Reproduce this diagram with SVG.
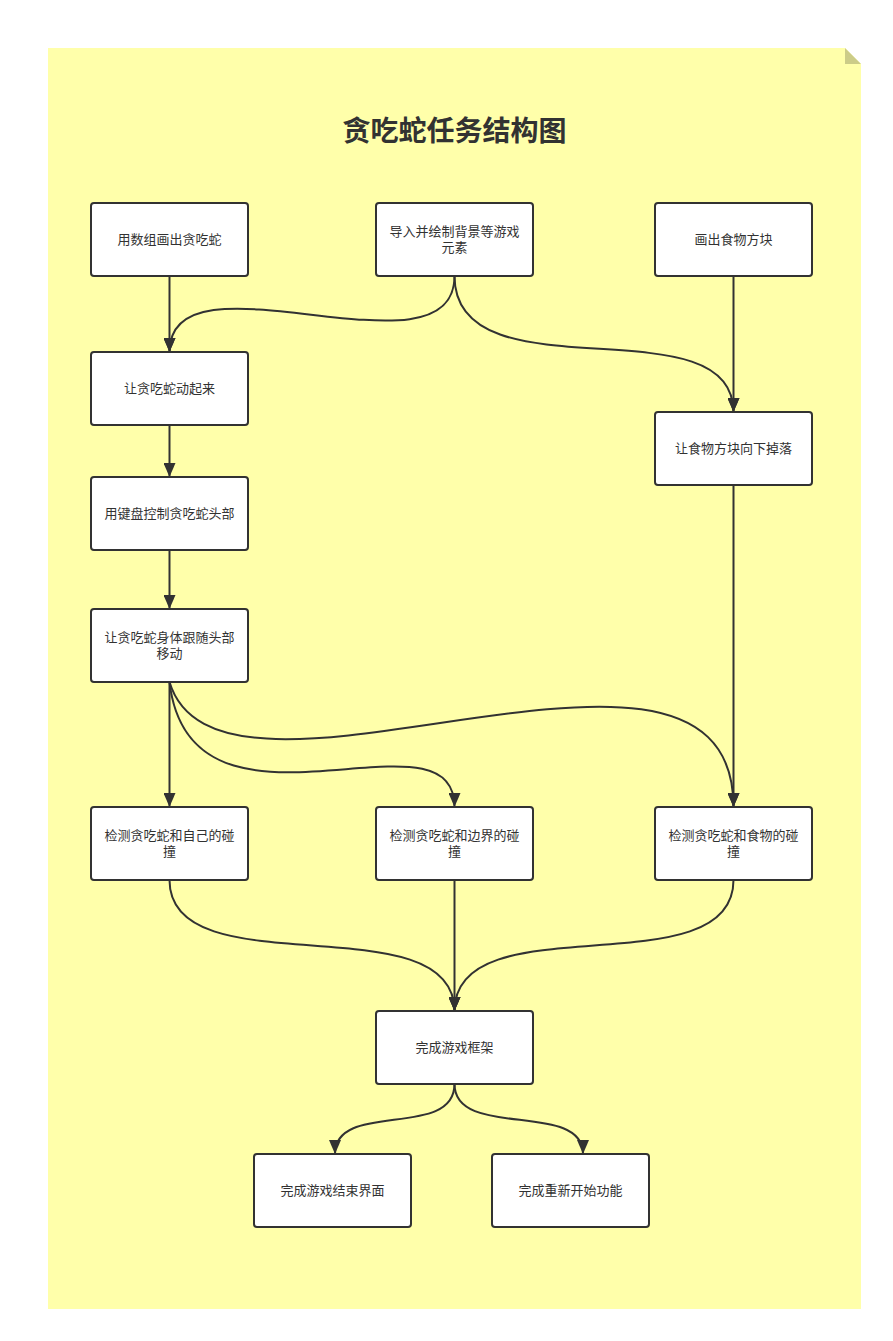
<svg xmlns="http://www.w3.org/2000/svg" width="893" height="1341" viewBox="0 0 893 1341">
  <style>
    .page { fill: #ffffaa; }
    .fold { fill: #cccc88; }
    .node rect { fill: #ffffff; stroke: #323232; stroke-width: 2; }
    .node text { font-family: "Noto Sans CJK SC", "Noto Sans", sans-serif; font-size: 13px; fill: #323232; text-anchor: middle; }
    .title { font-family: "Noto Sans CJK SC", "Noto Sans", sans-serif; font-size: 28px; font-weight: bold; fill: #323232; text-anchor: middle; }
    #connectors path { fill: none; stroke: #323232; stroke-width: 2; marker-end: url(#arrow); }
  </style>
  <defs>
    <marker id="arrow" markerUnits="userSpaceOnUse" markerWidth="14" markerHeight="12" refX="14" refY="6" orient="auto">
      <path d="M0,0 L14,6 L0,12 z" fill="#323232"/>
    </marker>
  </defs>

  <!-- background sheet with folded corner -->
  <path class="page" d="M48,48 H845 L861,64 V1309 H48 Z"/>
  <path class="fold" d="M845,48 L861,64 H845 Z"/>

  <text class="title" x="454.5" y="141">贪吃蛇任务结构图</text>

  <g id="connectors">
    <path d="M169.5,276 V352"/>
    <path d="M454.5,276 C454.5,386 169.5,244 169.5,352"/>
    <path d="M454.5,276 C454.5,400 733.5,300 733.5,412"/>
    <path d="M733.5,276 V412"/>
    <path d="M169.5,425 V477"/>
    <path d="M169.5,550 V609"/>
    <path d="M733.5,485 V807"/>
    <path d="M169.5,682 V807"/>
    <path d="M169.5,682 C190,860 454.5,700 454.5,807"/>
    <path d="M169.5,682 C220,850 733.5,570 733.5,807"/>
    <path d="M169.5,880 C169.5,990 454.5,901 454.5,1011"/>
    <path d="M454.5,880 V1011"/>
    <path d="M733.5,880 C733.5,990 454.5,901 454.5,1011"/>
    <path d="M454.5,1084 C454.5,1140 335,1100 335,1154"/>
    <path d="M454.5,1084 C454.5,1140 583,1100 583,1154"/>
  </g>

  <g id="node-draw-snake" class="node">
    <rect x="91" y="203" width="157" height="73" rx="3"/>
    <text x="169.5" y="244">用数组画出贪吃蛇</text>
  </g>
  <g id="node-import-bg" class="node">
    <rect x="376" y="203" width="157" height="73" rx="3"/>
    <text x="454.5" y="236">导入并绘制背景等游戏</text>
    <text x="454.5" y="252">元素</text>
  </g>
  <g id="node-draw-food" class="node">
    <rect x="655" y="203" width="157" height="73" rx="3"/>
    <text x="733.5" y="244">画出食物方块</text>
  </g>
  <g id="node-snake-move" class="node">
    <rect x="91" y="352" width="157" height="73" rx="3"/>
    <text x="169.5" y="393">让贪吃蛇动起来</text>
  </g>
  <g id="node-food-fall" class="node">
    <rect x="655" y="412" width="157" height="73" rx="3"/>
    <text x="733.5" y="453">让食物方块向下掉落</text>
  </g>
  <g id="node-keyboard" class="node">
    <rect x="91" y="477" width="157" height="73" rx="3"/>
    <text x="169.5" y="518">用键盘控制贪吃蛇头部</text>
  </g>
  <g id="node-body-follow" class="node">
    <rect x="91" y="609" width="157" height="73" rx="3"/>
    <text x="169.5" y="642">让贪吃蛇身体跟随头部</text>
    <text x="169.5" y="658">移动</text>
  </g>
  <g id="node-hit-self" class="node">
    <rect x="91" y="807" width="157" height="73" rx="3"/>
    <text x="169.5" y="840">检测贪吃蛇和自己的碰</text>
    <text x="169.5" y="856">撞</text>
  </g>
  <g id="node-hit-border" class="node">
    <rect x="376" y="807" width="157" height="73" rx="3"/>
    <text x="454.5" y="840">检测贪吃蛇和边界的碰</text>
    <text x="454.5" y="856">撞</text>
  </g>
  <g id="node-hit-food" class="node">
    <rect x="655" y="807" width="157" height="73" rx="3"/>
    <text x="733.5" y="840">检测贪吃蛇和食物的碰</text>
    <text x="733.5" y="856">撞</text>
  </g>
  <g id="node-framework" class="node">
    <rect x="376" y="1011" width="157" height="73" rx="3"/>
    <text x="454.5" y="1052">完成游戏框架</text>
  </g>
  <g id="node-game-over" class="node">
    <rect x="254" y="1154" width="157" height="73" rx="3"/>
    <text x="332.5" y="1195">完成游戏结束界面</text>
  </g>
  <g id="node-restart" class="node">
    <rect x="492" y="1154" width="157" height="73" rx="3"/>
    <text x="570.5" y="1195">完成重新开始功能</text>
  </g>
</svg>
